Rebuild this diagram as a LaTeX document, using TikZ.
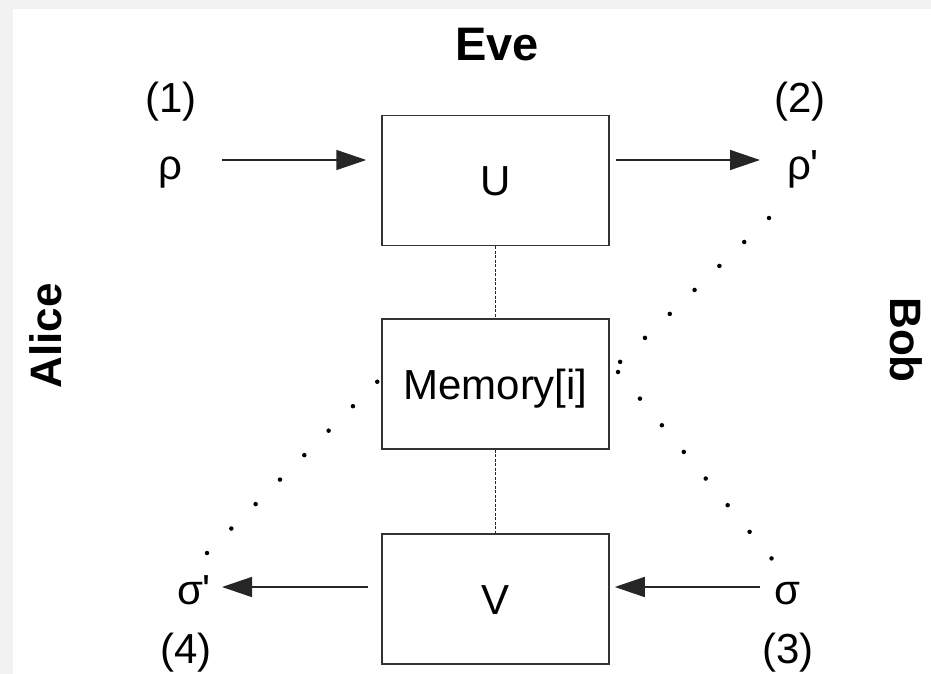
\documentclass[tikz,border=0pt]{standalone}
\usepackage{fontspec}
\setmainfont{Liberation Sans}
\usetikzlibrary{arrows.meta}
\begin{document}
\begin{tikzpicture}[x=1pt,y=-1pt,
  every node/.style={font=\fontsize{42}{48}\selectfont, inner sep=0pt},
  party/.style={font=\fontsize{44}{50}\selectfont\bfseries},
  box/.style={draw=black!80, line width=1.5pt, minimum width=227pt,
    minimum height=130pt, text height=30pt, text depth=0pt},
  flow/.style={-{Triangle[length=30pt,width=20pt]}, line width=1.5pt, draw=black!85},
  link/.style={draw=black!85, line width=1.6pt, dash pattern=on 3pt off 1.5pt},
  dots/.style={draw=black, line width=4.5pt, line cap=round, dash pattern=on 0pt off 34.5pt}
]
% paper with a light grey margin on the top and left
\fill[black!5] (0,0) rectangle (931,674);
\fill[white] (13,9) rectangle (931,674);
\useasboundingbox (0,0) rectangle (931,674);

% Eve's operations
\node[box] (U) at (495.5,180.5) {U};
\node[box] (M) at (495.5,384) {Memory[i]};
\node[box] (V) at (495.5,599) {V};

% parties
\node[party, font=\fontsize{47}{52}\selectfont\bfseries, anchor=base] (eve) at (497,61) {Eve};
\node[party, rotate=90] (alice) at (46,336) {Alice};
\node[party, rotate=-90] (bob) at (906,340) {Bob};

% states and step numbers
\node[anchor=base] (n1) at (171,113) {(1)};
\node[anchor=base] (rho) at (170,179) {ρ};
\node[anchor=base] (n2) at (800,113) {(2)};
\node[anchor=base] (rhop) at (803,179) {ρ\textquotesingle};
\node[anchor=base] (sigp) at (194,604) {σ\textquotesingle};
\node[anchor=base] (n4) at (186,663) {(4)};
\node[anchor=base] (sig) at (787,604) {σ};
\node[anchor=base] (n3) at (788,663) {(3)};

% arrow end points
\coordinate (rhoout) at (222,160);
\coordinate (rhopin) at (760,160);
\coordinate (sigout) at (760,587);
\coordinate (sigpin) at (222,587);

\draw[flow, shorten >=15pt] (rhoout) -- (rhoout -| U.west);
\draw[flow, shorten <=6pt] (rhopin -| U.east) -- (rhopin);
\draw[flow, shorten >=5pt] (sigout) -- (sigout -| V.east);
\draw[flow, shorten <=13pt] (sigpin -| V.west) -- (sigpin);

% links through the memory
\draw[link] (U.south) -- (M.north);
\draw[link] (M.south) -- (V.north);

% dotted correlations
\coordinate (dA) at (207,553);
\coordinate (dB) at (378,381);
\coordinate (dC) at (769,218);
\coordinate (dD) at (620,362);
\coordinate (dE) at (618,372);
\coordinate (dF) at (772,559);
\draw[dots] (dA) -- (dB);
\draw[dots] (dC) -- (dD);
\draw[dots] (dE) -- (dF);
\end{tikzpicture}
\end{document}
